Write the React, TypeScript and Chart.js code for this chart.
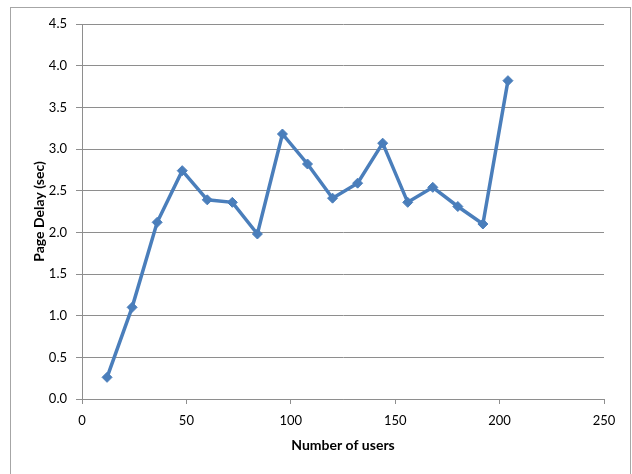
import React, { useEffect, useRef } from "react";
import { Chart, registerables } from "chart.js";

Chart.register(...registerables);

// Number of concurrent users for each test run
const users: number[] = [12, 24, 36, 48, 60, 72, 84, 96, 108, 120, 132, 144, 156, 168, 180, 192, 204];
// Measured page delay in seconds
const pageDelay: number[] = [0.26, 1.1, 2.12, 2.74, 2.39, 2.36, 1.98, 3.18, 2.82, 2.41, 2.59, 3.07, 2.36, 2.54, 2.31, 2.1, 3.82];

const xTitle = "Number of users";
const yTitle = "Page Delay (sec)";

const FONT = "Lato, 'Noto Sans', sans-serif";
const GRID = "#8e8e8e";
const BLUE = "#4a7ebb";

// Thin frame around the whole chart
const framePlugin = {
  id: "frame",
  beforeDraw(chart: Chart) {
    const ctx = chart.ctx;
    ctx.save();
    ctx.fillStyle = "#ffffff";
    ctx.fillRect(0, 0, chart.width, chart.height);
    ctx.strokeStyle = "#a6a6a6";
    ctx.lineWidth = 1;
    ctx.strokeRect(10.5, 7.5, 620, 480);
    ctx.restore();
  },
};

export default function App() {
  const canvasRef = useRef<HTMLCanvasElement | null>(null);

  useEffect(() => {
    document.body.style.margin = "0";
    const canvas = canvasRef.current;
    if (!canvas) return;
    const chart = new Chart(canvas, {
      type: "line",
      data: {
        datasets: [
          {
            label: yTitle,
            data: users.map((u, i) => ({ x: u, y: pageDelay[i] })),
            borderColor: BLUE,
            backgroundColor: BLUE,
            borderWidth: 3.5,
            pointStyle: "rectRot",
            pointRadius: 5,
            pointBorderWidth: 1,
            tension: 0,
          },
        ],
      },
      options: {
        responsive: false,
        animation: false,
        layout: { padding: { left: 11, top: 24, right: 28, bottom: 0 } },
        plugins: {
          legend: { display: false },
          tooltip: { enabled: false },
        },
        scales: {
          x: {
            type: "linear",
            min: 0,
            max: 250,
            ticks: {
              stepSize: 50,
              padding: 9,
              color: "#000000",
              font: { family: FONT, size: 13 },
            },
            grid: {
              drawOnChartArea: false,
              drawTicks: true,
              tickLength: 5,
              color: GRID,
            },
            border: { display: true, color: GRID, width: 1 },
            title: {
              display: true,
              text: xTitle,
              color: "#000000",
              font: { family: FONT, size: 14, weight: "bold" },
              padding: { top: 0, bottom: 20.6 },
            },
            afterFit(scale: any) {
              scale.height = 75;
            },
          },
          y: {
            type: "linear",
            min: 0,
            max: 4.5,
            ticks: {
              stepSize: 0.5,
              padding: 9,
              color: "#000000",
              font: { family: FONT, size: 13 },
              callback: (v: any) => Number(v).toFixed(1),
            },
            grid: {
              drawOnChartArea: true,
              drawTicks: true,
              tickLength: 6,
              color: GRID,
            },
            border: { display: true, color: GRID, width: 1 },
            title: {
              display: true,
              text: yTitle,
              color: "#000000",
              font: { family: FONT, size: 14, weight: "bold" },
              padding: { top: 19.6, bottom: 0 },
            },
            afterFit(scale: any) {
              scale.width = 71;
            },
          },
        },
      },
      plugins: [framePlugin],
    });
    return () => chart.destroy();
  }, []);

  return (
    <div style={{ position: "fixed", left: 0, top: 0, width: 632, height: 474 }}>
      <canvas ref={canvasRef} width={632} height={474} />
    </div>
  );
}
